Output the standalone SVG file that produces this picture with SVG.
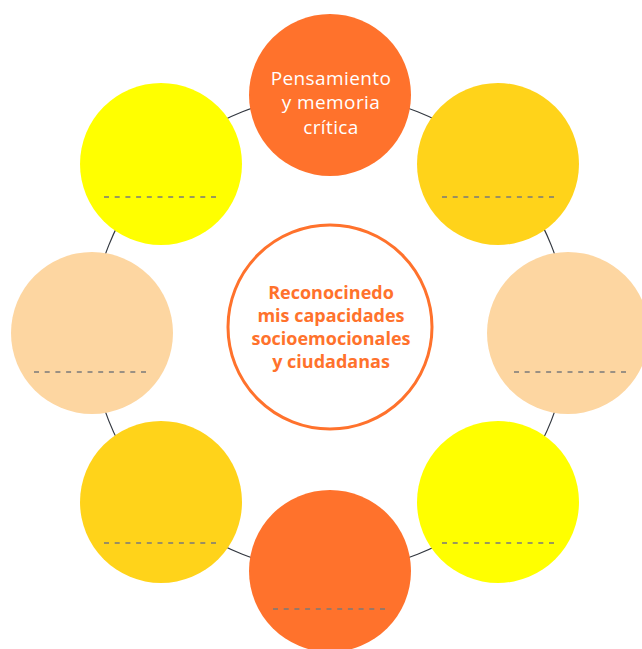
<svg xmlns="http://www.w3.org/2000/svg" width="642" height="649" viewBox="0 0 642 649">
<style>
.orange{fill:#FF722C}
.gold{fill:#FFD31A}
.peach{fill:#FDD6A1}
.yellow{fill:#FFFF00}
.dash{stroke:#7A7A7A;stroke-width:1.5;stroke-dasharray:5 5.7;fill:none}
.ring{stroke:#333840;stroke-width:1.2;fill:none}
.t1{font-family:"Open Sans","Liberation Sans",sans-serif;font-size:19px;letter-spacing:0.4px;fill:#FFFFFF;text-anchor:middle}
.t2{font-family:"Open Sans","Liberation Sans",sans-serif;font-size:18px;font-weight:700;fill:#FF722C;text-anchor:middle}
</style>
<rect width="642" height="649" fill="#FFFFFF"/>
<g id="connectors">
<circle class="ring" cx="330" cy="333" r="238"/>
</g>
<g id="center">
<circle cx="330" cy="327" r="102" fill="#FFFFFF" stroke="#FF722C" stroke-width="3"/>
<text class="t2"><tspan x="331" y="299">Reconocinedo</tspan><tspan x="331" y="322">mis capacidades</tspan><tspan x="331" y="345">socioemocionales</tspan><tspan x="331" y="368">y ciudadanas</tspan></text>
</g>
<g id="node-top">
<circle class="orange" cx="330" cy="95" r="81"/>
<text class="t1"><tspan x="331" y="84.5">Pensamiento</tspan><tspan x="331" y="109">y memoria</tspan><tspan x="331" y="133.5">crítica</tspan></text>
</g>
<g id="node-top-right">
<circle class="gold" cx="498" cy="164" r="81"/>
<line class="dash" x1="442" y1="197" x2="556" y2="197"/>
</g>
<g id="node-right">
<circle class="peach" cx="568" cy="333" r="81"/>
<line class="dash" x1="514" y1="372" x2="628" y2="372"/>
</g>
<g id="node-bottom-right">
<circle class="yellow" cx="498" cy="502" r="81"/>
<line class="dash" x1="442" y1="543" x2="556" y2="543"/>
</g>
<g id="node-bottom">
<circle class="orange" cx="330" cy="571" r="81"/>
<line class="dash" x1="273" y1="609" x2="387" y2="609"/>
</g>
<g id="node-bottom-left">
<circle class="gold" cx="161" cy="502" r="81"/>
<line class="dash" x1="104" y1="543" x2="218" y2="543"/>
</g>
<g id="node-left">
<circle class="peach" cx="92" cy="333" r="81"/>
<line class="dash" x1="34" y1="372" x2="148" y2="372"/>
</g>
<g id="node-top-left">
<circle class="yellow" cx="161" cy="164" r="81"/>
<line class="dash" x1="104" y1="197" x2="218" y2="197"/>
</g>
</svg>
